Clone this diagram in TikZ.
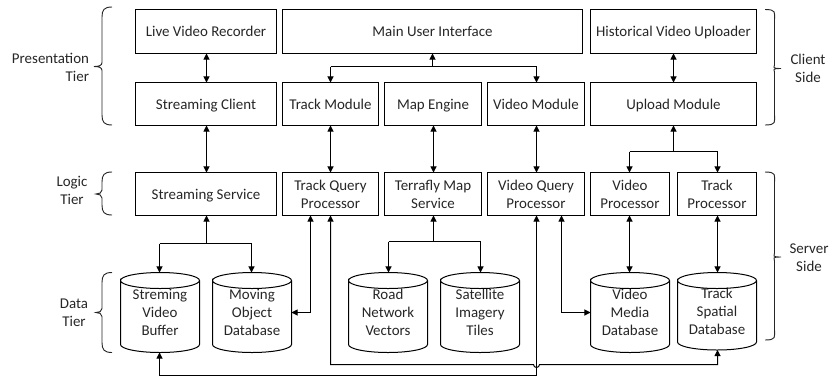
\documentclass[tikz,border=0pt]{standalone}
\usepackage{fontspec}
\setmainfont{Carlito}
\usetikzlibrary{arrows.meta}
\tikzset{
  x=0.75pt,y=-0.75pt,
  every node/.style={font=\fontsize{11.2pt}{13.4pt}\selectfont,inner sep=0pt,outer sep=0pt,align=center,text=black!85},
  box/.style={draw=black,line width=0.75pt},
  wire/.style={line width=0.75pt,black},
  both/.style={wire,{Triangle[length=4.6pt,width=4.6pt]}-{Triangle[length=4.6pt,width=4.6pt]}},
  tip/.style={wire,-{Triangle[length=4.6pt,width=4.6pt]}},
  curly/.style={line width=0.7pt,black!85},
}
\newcommand\topstrut{\rule{0pt}{11.9pt}}
\newcommand\bx[6]{\node[box,minimum width={(#3-#2)*0.75pt},minimum height={(#5-#4)*0.75pt}] (#1) at ({(#2+#3)/2},{(#4+#5)/2}) {\topstrut #6\strut};}
% database: a node of the full extent, with the drum outline drawn on its corners
\newcommand\db[6]{\node[minimum width={(#3-#2)*0.75pt},minimum height={(#5-#4)*0.75pt}] (#1) at ({(#2+#3)/2},{(#4+#5)/2}) {\topstrut #6\strut};
  \draw[wire] ([yshift=-6pt]#1.north west) arc[start angle=180,end angle=0,x radius=29.625pt,y radius=6pt] arc[start angle=0,end angle=-180,x radius=29.625pt,y radius=6pt] -- ([yshift=6pt]#1.south west) arc[start angle=180,end angle=360,x radius=29.625pt,y radius=6pt] -- ([yshift=-6pt]#1.north east);}
% brace: x-outer, x-spine, x-tip, top, mid, bottom
\newcommand\tierbrace[6]{\draw[curly] (#1,#4) .. controls ({#2+2},#4) and (#2,{#4+3}) .. (#2,{#4+10}) -- (#2,{#5-4}) .. controls (#2,{#5-1}) and ({#2-3},#5) .. (#3,#5) .. controls ({#2-3},#5) and (#2,{#5+1}) .. (#2,{#5+4}) -- (#2,{#6-10}) .. controls (#2,{#6-3}) and ({#2+2},#6) .. (#1,#6);}
\begin{document}
\begin{tikzpicture}
\useasboundingbox (0,0) rectangle (830,379);
% row 1
\bx{live}{135.5}{276.5}{9.5}{53.5}{Live Video Recorder}
\bx{main}{282.5}{582.5}{9.5}{53.5}{Main User Interface}
\bx{hist}{590.5}{756.5}{9.5}{53.5}{Historical Video Uploader}
% row 2
\bx{sc}{135.5}{276.5}{82.5}{125.5}{Streaming Client}
\bx{tm}{282.5}{378.5}{82.5}{125.5}{Track Module}
\bx{me}{384.5}{481.5}{82.5}{125.5}{Map Engine}
\bx{vm}{487.5}{584.5}{82.5}{125.5}{Video Module}
\bx{um}{590.5}{756.5}{82.5}{125.5}{Upload Module}
% row 3
\bx{ss}{135.5}{276.5}{172.5}{215.5}{Streaming Service}
\bx{tq}{282.5}{378.5}{172.5}{215.5}{Track Query\\Processor}
\bx{tf}{384.5}{481.5}{172.5}{215.5}{Terrafly Map\\Service}
\bx{vq}{487.5}{584.5}{172.5}{215.5}{Video Query\\Processor}
\bx{vp}{590.5}{669.5}{172.5}{215.5}{Video\\Processor}
\bx{tp}{677.5}{756.5}{172.5}{215.5}{Track\\Processor}
% data
\db{svb}{120.5}{199.5}{272.5}{352.5}{Streming\\Video\\Buffer}
\db{mod}{212.5}{291.5}{272.5}{352.5}{Moving\\Object\\Database}
\db{rnv}{348.5}{427.5}{272.5}{352.5}{Road\\Network\\Vectors}
\db{sit}{440.5}{519.5}{272.5}{352.5}{Satellite\\Imagery\\Tiles}
\db{vmd}{590.5}{669.5}{272.5}{352.5}{Video\\Media\\Database}
\db{tsd}{677.5}{756.5}{272.5}{350}{Track\\Spatial\\Database}
% connector columns, on the pixel grid
\coordinate (xss) at (206.5,0);
\coordinate (xtm) at (330.5,0);
\coordinate (xme) at (433.5,0);
\coordinate (xvm) at (536.5,0);
\coordinate (xui) at (432.5,0);
\coordinate (xum) at (673.5,0);
\coordinate (xvp) at (629.5,0);
\coordinate (xtp) at (717.5,0);
\coordinate (xsv) at (159.5,0);
\coordinate (xmo) at (251.5,0);
\coordinate (xrn) at (388.5,0);
\coordinate (xsi) at (480.5,0);
\coordinate (xtq) at (310.5,0);
\coordinate (xvq) at (561.5,0);
% connector rows
\coordinate (yui) at (0,66.5);
\coordinate (yup) at (0,151.5);
\coordinate (yss) at (0,243.5);
\coordinate (ytf) at (0,241.5);
\coordinate (yside) at (0,312.5);
\coordinate (ylowa) at (0,364.5);
\coordinate (ylowb) at (0,375.5);
% hop over the vertical line
\coordinate (hopL) at (533.5,364.5);
\coordinate (hopR) at (539.5,364.5);
% vertical two-way
\draw[both] (live.south -| xss) -- (sc.north -| xss);
\draw[both] (hist.south -| xum) -- (um.north -| xum);
\draw[both] (sc.south -| xss) -- (ss.north -| xss);
\draw[both] (tm.south -| xtm) -- (tq.north -| xtm);
\draw[both] (me.south -| xme) -- (tf.north -| xme);
\draw[both] (vm.south -| xvm) -- (vq.north -| xvm);
\draw[both] (vp.south -| xvp) -- (vmd.north -| xvp);
\draw[both] (tp.south -| xtp) -- (tsd.north -| xtp);
% main UI fan
\draw[tip] (xui |- yui) -- (main.south -| xui);
\draw[tip] (xtm |- yui) -- (tm.north -| xtm);
\draw[tip] (xvm |- yui) -- (vm.north -| xvm);
\draw[wire] (xtm |- yui) -- (xvm |- yui);
% upload fan
\draw[tip] (xum |- yup) -- (um.south -| xum);
\draw[tip] (xvp |- yup) -- (vp.north -| xvp);
\draw[tip] (xtp |- yup) -- (tp.north -| xtp);
\draw[wire] (xvp |- yup) -- (xtp |- yup);
% streaming service fan
\draw[tip] (xss |- yss) -- (ss.south -| xss);
\draw[tip] (xsv |- yss) -- (svb.north -| xsv);
\draw[tip] (xmo |- yss) -- (mod.north -| xmo);
\draw[wire] (xsv |- yss) -- (xmo |- yss);
% terrafly fan
\draw[tip] (xme |- ytf) -- (tf.south -| xme);
\draw[tip] (xrn |- ytf) -- (rnv.north -| xrn);
\draw[tip] (xsi |- ytf) -- (sit.north -| xsi);
\draw[wire] (xrn |- ytf) -- (xsi |- ytf);
% side links
\draw[both] (tq.south -| xtq) -- (xtq |- yside) -- (mod.east |- yside);
\draw[both] (vq.south -| xvq) -- (xvq |- yside) -- (vmd.west |- yside);
% long lower links
\draw[both] (tq.south -| xtm) -- (xtm |- ylowa) -- (hopL) arc[start angle=180,end angle=0,radius=3] -- (xtp |- ylowa) -- (tsd.south -| xtp);
\draw[both] (vq.south -| xvm) -- (xvm |- ylowb) -- (xsv |- ylowb) -- (svb.south -| xsv);
% braces
\tierbrace{112}{102}{94}{7}{66.5}{125}
\tierbrace{112}{102}{96}{172}{194}{215}
\tierbrace{112}{102}{96}{272.5}{312.5}{352.5}
\tierbrace{765}{774.5}{781}{9.5}{68.5}{125}
\tierbrace{765}{774.5}{781}{172}{257}{340}
% tier labels
\node[align=right,anchor=east] (lp) at (89,67.5) {\topstrut Presentation\\Tier\strut};
\node (ll) at (72,190) {\topstrut Logic\\Tier\strut};
\node (ld) at (74,312) {\topstrut Data\\Tier\strut};
\node (rc) at (808,68) {\topstrut Client\\Side\strut};
\node (rs) at (809,257.5) {\topstrut Server\\Side\strut};
\end{tikzpicture}
\end{document}
